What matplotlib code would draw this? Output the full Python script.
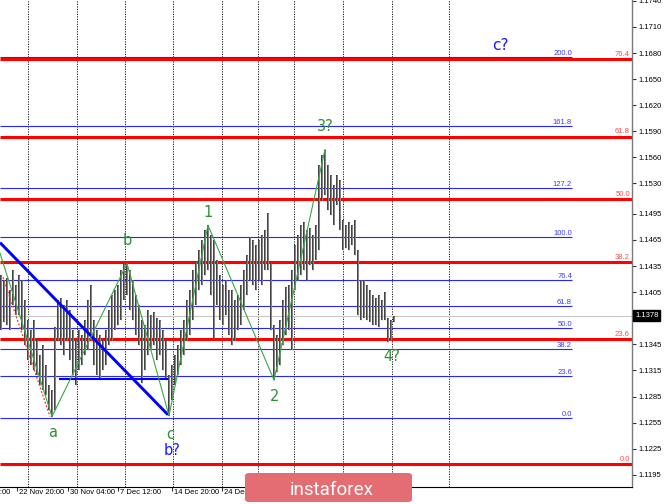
import matplotlib
matplotlib.use("Agg")
import matplotlib.pyplot as plt
from matplotlib.patches import FancyBboxPatch

# ---------------- data ----------------
bar_high = [1.1425, 1.1419, 1.1421, 1.1408, 1.1431, 1.1413, 1.1425, 1.1419, 1.1396, 1.1373,
            1.1362, 1.1373, 1.1350, 1.1333, 1.1344, 1.1321, 1.1298, 1.1293, 1.1365, 1.1396,
            1.1398, 1.1390, 1.1396, 1.1385, 1.1362, 1.1350, 1.1362, 1.1356, 1.1373, 1.1396,
            1.1413, 1.1373, 1.1362, 1.1356, 1.1350, 1.1362, 1.1385, 1.1402, 1.1408, 1.1413,
            1.1431, 1.1439, 1.1439, 1.1431, 1.1419, 1.1402, 1.1390, 1.1373, 1.1367, 1.1385,
            1.1379, 1.1382, 1.1375, 1.1373, 1.1362, 1.1350, 1.1310, 1.1321, 1.1333, 1.1344,
            1.1362, 1.1373, 1.1396, 1.1408, 1.1431, 1.1440, 1.1454, 1.1465, 1.1477, 1.1482,
            1.1471, 1.1465, 1.1442, 1.1425, 1.1413, 1.1419, 1.1408, 1.1408, 1.1396, 1.1402,
            1.1413, 1.1431, 1.1448, 1.1468, 1.1465, 1.1459, 1.1465, 1.1471, 1.1477, 1.1496,
            1.1439, 1.1367, 1.1356, 1.1373, 1.1396, 1.1411, 1.1413, 1.1431, 1.1459, 1.1471,
            1.1482, 1.1486, 1.1477, 1.1479, 1.1471, 1.1482, 1.1551, 1.1563, 1.1569, 1.1551,
            1.1540, 1.1528, 1.1540, 1.1534, 1.1488, 1.1482, 1.1486, 1.1482, 1.1488, 1.1454,
            1.1419, 1.1419, 1.1413, 1.1408, 1.1402, 1.1398, 1.1402, 1.1396, 1.1405, 1.1375,
            1.1373, 1.1378]
bar_low = [1.1362, 1.1371, 1.1367, 1.1362, 1.1390, 1.1379, 1.1379, 1.1362, 1.1344, 1.1327,
           1.1321, 1.1316, 1.1310, 1.1298, 1.1293, 1.1287, 1.1270, 1.1262, 1.1270, 1.1350,
           1.1344, 1.1333, 1.1350, 1.1327, 1.1310, 1.1298, 1.1316, 1.1321, 1.1333, 1.1339,
           1.1350, 1.1321, 1.1310, 1.1304, 1.1316, 1.1321, 1.1344, 1.1350, 1.1362, 1.1367,
           1.1373, 1.1396, 1.1402, 1.1385, 1.1373, 1.1356, 1.1344, 1.1301, 1.1316, 1.1333,
           1.1339, 1.1344, 1.1327, 1.1333, 1.1316, 1.1304, 1.1263, 1.1281, 1.1298, 1.1310,
           1.1321, 1.1333, 1.1350, 1.1356, 1.1373, 1.1390, 1.1408, 1.1413, 1.1425, 1.1431,
           1.1402, 1.1352, 1.1390, 1.1373, 1.1367, 1.1379, 1.1356, 1.1344, 1.1350, 1.1362,
           1.1367, 1.1385, 1.1402, 1.1419, 1.1413, 1.1408, 1.1419, 1.1413, 1.1431, 1.1431,
           1.1362, 1.1304, 1.1313, 1.1321, 1.1344, 1.1356, 1.1362, 1.1339, 1.1408, 1.1419,
           1.1425, 1.1431, 1.1419, 1.1436, 1.1431, 1.1442, 1.1454, 1.1511, 1.1517, 1.1500,
           1.1494, 1.1482, 1.1505, 1.1477, 1.1454, 1.1456, 1.1454, 1.1459, 1.1448, 1.1379,
           1.1373, 1.1375, 1.1373, 1.1371, 1.1367, 1.1367, 1.1365, 1.1373, 1.1373, 1.1348,
           1.1350, 1.1371]
current_price = 1.1378

# red Fibonacci grid (0% / 100% prices) and its levels
red_fib_low, red_fib_high = 1.1207, 1.1817
red_fib_levels = [0.0, 23.6, 38.2, 50.0, 61.8, 76.4]
# blue Fibonacci extension grid
blue_fib_low, blue_fib_high = 1.1260, 1.1468
blue_fib_levels = [0.0, 23.6, 38.2, 50.0, 61.8, 76.4, 100.0, 127.2, 161.8, 200.0]

# wave count (bar index, price)
wave_x = [-1, 17, 42, 56, 69, 91, 108]
wave_y = [1.1457, 1.1262, 1.1438, 1.1263, 1.1482, 1.1304, 1.1569]

# trend lines
trend_x = [-0.33, 55.67]
trend_y = [1.1462, 1.1264]
support_x = [19.67, 55.33]
support_y = [1.1305, 1.1305]
red_dot_x = [0.67, 16.33]
red_dot_y = [1.1422, 1.1262]

# y axis tick labels
y_ticks = [1.1740, 1.1710, 1.1680, 1.1650, 1.1620, 1.1590, 1.1560, 1.1530, 1.1495,
           1.1465, 1.1435, 1.1405, 1.1375, 1.1345, 1.1315, 1.1285, 1.1255, 1.1225, 1.1195]
# x axis (bar index of date ticks) and labels
x_tick_pos = [-12.6, 5.2, 22.4, 39.1, 56.9, 73.6]
x_tick_labels = ["15 Nov 12:00", "22 Nov 20:00", "30 Nov 04:00", "7 Dec 12:00",
                 "14 Dec 20:00", "24 Dec 04:00"]
grid_pos = [9.1, 25.4, 41.4, 57.4, 73.7, 85.8, 97.7, 113.9, 130.2, 149.4]

# ---------------- figure ----------------
W, H = 665, 504
fig = plt.figure(figsize=(W / 100, H / 100), dpi=100)
fig.patch.set_facecolor("white")
ax_left, ax_right, ax_top, ax_bottom = 0, 632, 0, 487
ax = fig.add_axes([ax_left / W, 1 - ax_bottom / H, (ax_right - ax_left) / W,
                   (ax_bottom - ax_top) / H])
XMIN, XMAX = -1 / 3, 631 / 3
ax.set_xlim(XMIN, XMAX)
ax.set_ylim(1.1741 - 487 * 0.000115, 1.1741)

for s in ("top", "left"):
    ax.spines[s].set_visible(False)
ax.spines["right"].set_color("#7a7a7a")
ax.spines["right"].set_linewidth(1.0)
ax.spines["bottom"].set_color("black")
ax.spines["bottom"].set_linewidth(0.8)

small = dict(family=["Liberation Sans", "DejaVu Sans"], fontsize=5.5)

# vertical grid
for gx in grid_pos:
    ax.axvline(gx, color="black", lw=0.6, ls=(0, (1.5, 1.5)), zorder=1)

# current price line
ax.axhline(current_price, color="#c8c8c8", lw=0.8, zorder=1)

# blue fib
BLUE_END = 190.33
for lv in blue_fib_levels:
    p = blue_fib_low + lv / 100 * (blue_fib_high - blue_fib_low)
    ax.hlines(p, XMIN, BLUE_END, color="#2626ff", lw=0.8, zorder=2)
    ax.text(BLUE_END, p, f"{lv:.1f}", ha="right", va="bottom", color="#3a3aff", **small)

# red fib
for lv in red_fib_levels:
    p = red_fib_low + lv / 100 * (red_fib_high - red_fib_low)
    ax.hlines(p, XMIN, XMAX, color="#ff0000", lw=2.2, zorder=2)
    ax.text(XMAX - 0.7, p + 0.00012, f"{lv:.1f}", ha="right", va="bottom",
            color="#ff4a4a", **small)

# bars: dark outline with grey core
xs = list(range(len(bar_high)))
ax.vlines(xs, bar_low, bar_high, color="#444444", lw=1.45, zorder=3)
ax.vlines(xs, bar_low, bar_high, color="#a0a0a0", lw=0.5, zorder=3.1)

# trend lines
ax.plot(trend_x, trend_y, color="#0000ff", lw=2.1, zorder=4, solid_capstyle="butt")
ax.plot(support_x, support_y, color="#0000ff", lw=1.5, zorder=4)
ax.plot(red_dot_x, red_dot_y, color="#ff3030", lw=0.9, ls=(0, (1.5, 1.5)), zorder=4)
ax.plot(wave_x, wave_y, color="#3aa845", lw=0.8, zorder=5)

# wave labels
green = "#2f8f35"
blue_t = "#1a1aff"
big = dict(family=["DejaVu Sans"], fontsize=10.5, ha="center", va="center")
def lab(txt, x, y, dy, color):
    ax.annotate(txt, (x, y), xytext=(0, dy), textcoords="offset pixels", color=color,
                annotation_clip=False, zorder=6, **big)
lab("a", 17.33, 1.1262, -16, green)
lab("b", 42, 1.1438, 23, green)
lab("c", 56.33, 1.1263, -19, green)
lab("b?", 56.9, 1.1263, -35, blue_t)
lab("1", 69, 1.1482, 13, green)
lab("2", 91.33, 1.1304, -17, green)
lab("3?", 108, 1.1569, 23, green)
lab("4?", 130.3, 1.1348, -15, green)
ax.text(166.3, 1.1741 - 45 * 0.000115, "c?", color=blue_t, ha="center", va="center",
        family=["DejaVu Sans"], fontsize=11)

# y axis
ax.yaxis.tick_right()
ax.set_yticks(y_ticks)
ax.set_yticklabels([f"{v:.4f}" for v in y_ticks], **small)
ax.tick_params(axis="y", direction="out", length=3, width=0.8, color="#333333", pad=2)

# x axis
ax.set_xticks(x_tick_pos[1:])
ax.set_xticklabels([])
ax.tick_params(axis="x", direction="out", length=3, width=0.8, color="#333333")
for xp, t in zip(x_tick_pos, x_tick_labels):
    ax.annotate(t, (xp, 0), xycoords=("data", "axes fraction"), xytext=(2, -6),
                textcoords="offset pixels", ha="left", va="center",
                annotation_clip=False, **small)

# current price box
ax.annotate(f"{current_price:.4f}", (1, current_price), xycoords=("axes fraction", "data"),
            xytext=(3, 0), textcoords="offset pixels", ha="left", va="center",
            color="white", annotation_clip=False, zorder=10,
            bbox=dict(boxstyle="square,pad=0.25", fc="black", ec="black"), **small)

# logo
logo = FancyBboxPatch((245 / W, 1 - 502 / H), (412 - 245) / W, (502 - 473) / H,
                      boxstyle="round,pad=0,rounding_size=0.006", transform=fig.transFigure,
                      fc="#e36d72", ec="none", zorder=20)
fig.patches.append(logo)
fig.text(332 / W, 1 - 495 / H, "instaforex", color="white", ha="center", va="baseline",
         family=["Roboto", "DejaVu Sans"], fontsize=13.5, zorder=21)

fig.savefig("out.png", dpi=100)
